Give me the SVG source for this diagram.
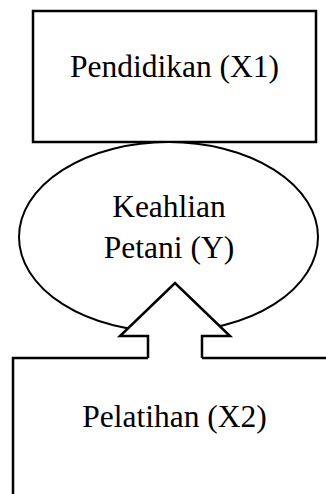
<svg xmlns="http://www.w3.org/2000/svg" width="326" height="494" viewBox="0 0 326 494">
<style>
.box{fill:#fff;stroke:#000;stroke-width:2.5}
.ell{fill:#fff;stroke:#000;stroke-width:2}
.lbl{font-family:"Liberation Serif","Times New Roman",serif;font-size:31.5px;fill:#000;text-anchor:middle}
.arrowfill{fill:#fff;stroke:none}
.arrowline{fill:none;stroke:#000;stroke-width:2.5;stroke-linejoin:miter}
</style>
<rect width="326" height="494" fill="#fff"/>
<g id="node-x1">
<rect class="box" x="33" y="11" width="283" height="131"/>
<text class="lbl" x="174.5" y="77">Pendidikan (X1)</text>
</g>
<g id="node-y">
<ellipse class="ell" cx="168.5" cy="237" rx="149.5" ry="95"/>
<text class="lbl" x="169" y="217">Keahlian</text>
<text class="lbl" x="169" y="258">Petani (Y)</text>
</g>
<g id="node-x2">
<rect class="box" x="13" y="358" width="340" height="200"/>
<text class="lbl" x="174.5" y="427">Pelatihan (X2)</text>
</g>
<g id="connectors">
<polygon class="arrowfill" points="175,283 230,336 202,336 202,360 148,360 148,336 120,336"/>
<polyline class="arrowline" points="148,358 148,336 120,336 175,283 230,336 202,336 202,358"/>
</g>
</svg>
